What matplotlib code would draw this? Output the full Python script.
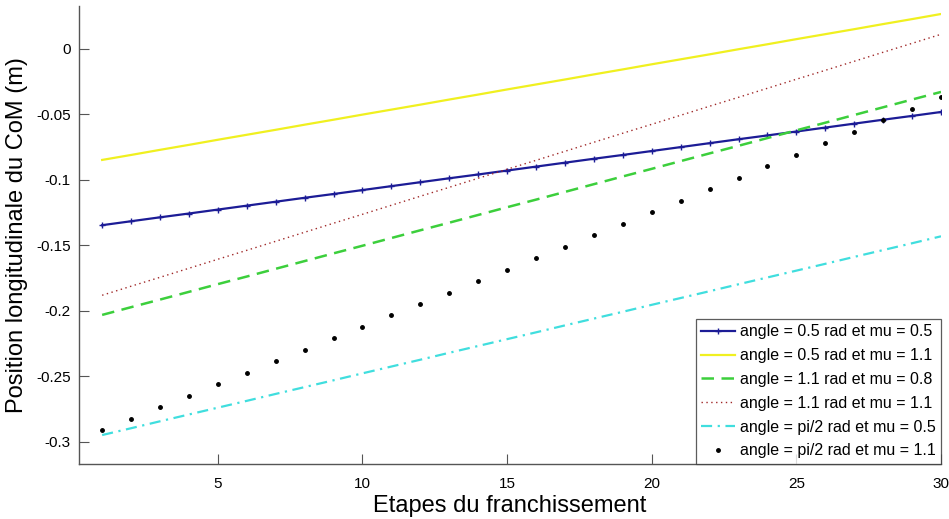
import matplotlib
matplotlib.use("Agg")
import matplotlib.pyplot as plt

plt.rcParams['font.family'] = ['Liberation Sans', 'DejaVu Sans']

steps = list(range(1, 31))

blue_05_05 = [-0.1345, -0.1315, -0.1285, -0.1256, -0.1226, -0.1196, -0.1166, -0.1136, -0.1107, -0.1077,
              -0.1047, -0.1017, -0.0987, -0.0958, -0.0928, -0.0898, -0.0868, -0.0838, -0.0809, -0.0779,
              -0.0749, -0.0719, -0.0689, -0.0660, -0.0630, -0.0600, -0.0570, -0.0540, -0.0511, -0.0481]
yellow_05_11 = [-0.0847, -0.0809, -0.0770, -0.0732, -0.0693, -0.0655, -0.0617, -0.0578, -0.0540, -0.0501,
                -0.0463, -0.0425, -0.0386, -0.0348, -0.0309, -0.0271, -0.0233, -0.0194, -0.0156, -0.0117,
                -0.0079, -0.0041, -0.0002, 0.0036, 0.0075, 0.0113, 0.0151, 0.0190, 0.0228, 0.0267]
green_11_08 = [-0.2030, -0.1971, -0.1913, -0.1854, -0.1795, -0.1737, -0.1678, -0.1619, -0.1560, -0.1502,
               -0.1443, -0.1384, -0.1326, -0.1267, -0.1208, -0.1150, -0.1091, -0.1032, -0.0973, -0.0915,
               -0.0856, -0.0797, -0.0739, -0.0680, -0.0621, -0.0563, -0.0504, -0.0445, -0.0386, -0.0328]
red_11_11 = [-0.1880, -0.1811, -0.1743, -0.1674, -0.1605, -0.1537, -0.1468, -0.1399, -0.1330, -0.1262,
             -0.1193, -0.1124, -0.1056, -0.0987, -0.0918, -0.0850, -0.0781, -0.0712, -0.0643, -0.0575,
             -0.0506, -0.0437, -0.0369, -0.0300, -0.0231, -0.0163, -0.0094, -0.0025, 0.0043, 0.0112]
cyan_pi2_05 = [-0.2947, -0.2895, -0.2842, -0.2790, -0.2738, -0.2686, -0.2633, -0.2581, -0.2529, -0.2476,
               -0.2424, -0.2372, -0.2319, -0.2267, -0.2215, -0.2163, -0.2110, -0.2058, -0.2006, -0.1953,
               -0.1901, -0.1849, -0.1796, -0.1744, -0.1692, -0.1640, -0.1587, -0.1535, -0.1483, -0.1430]
black_pi2_11 = [-0.2910, -0.2822, -0.2735, -0.2647, -0.2560, -0.2472, -0.2384, -0.2297, -0.2209, -0.2122,
                -0.2034, -0.1946, -0.1859, -0.1771, -0.1684, -0.1596, -0.1508, -0.1421, -0.1333, -0.1246,
                -0.1158, -0.1070, -0.0983, -0.0895, -0.0808, -0.0720, -0.0632, -0.0545, -0.0457, -0.0370]

labels = ['angle = 0.5 rad et mu = 0.5', 'angle = 0.5 rad et mu = 1.1',
          'angle = 1.1 rad et mu = 0.8', 'angle = 1.1 rad et mu = 1.1',
          'angle = pi/2 rad et mu = 0.5', 'angle = pi/2 rad et mu = 1.1']
xticks = [5, 10, 15, 20, 25, 30]
yticks = [0, -0.05, -0.1, -0.15, -0.2, -0.25, -0.3]
yticklabels = ['0', '-0.05', '-0.1', '-0.15', '-0.2', '-0.25', '-0.3']

fig = plt.figure(figsize=(9.49, 5.19), dpi=100)
ax = fig.add_axes([79 / 949, 55 / 519, 862 / 949, 458 / 519])

ax.plot(steps, blue_05_05, color='#1c1c96', lw=1.6, marker='+', ms=4, mew=1, label=labels[0])
ax.plot(steps, yellow_05_11, color='#f0f020', lw=1.6, label=labels[1])
ax.plot(steps, green_11_08, color='#3ccf3c', lw=1.8, ls=(0, (5, 3)), label=labels[2])
ax.plot(steps, red_11_11, color='#a02828', lw=1.0, ls=(0, (1, 2.5)), label=labels[3])
ax.plot(steps, cyan_pi2_05, color='#40dede', lw=1.6, ls=(0, (5, 2.5, 1, 2.5)), label=labels[4])
ax.plot(steps, black_pi2_11, color='black', ls='none', marker='.', ms=5, label=labels[5])

ax.set_xlim(0.2, 30)
ax.set_ylim(-0.3168, 0.0328)
ax.set_xticks(xticks)
ax.set_yticks(yticks)
ax.set_yticklabels(yticklabels)
ax.tick_params(direction='in', length=7, width=0.8, color='#555555', labelsize=11, pad=6)
ax.tick_params(axis='x', pad=9)

for side in ['top', 'right']:
    ax.spines[side].set_visible(False)
for side in ['left', 'bottom']:
    ax.spines[side].set_color('#555555')
    ax.spines[side].set_linewidth(1.0)

ax.set_xlabel('Etapes du franchissement', fontsize=17, labelpad=3)
ax.set_ylabel('Position longitudinale du CoM (m)', fontsize=17, labelpad=6)

leg = ax.legend(loc='lower right', fontsize=11.5, frameon=True, fancybox=False,
                borderaxespad=0, handlelength=2.1, handletextpad=0.3,
                labelspacing=0.55, borderpad=0.35)
leg.get_frame().set_edgecolor('#333333')
leg.get_frame().set_linewidth(0.9)

fig.savefig('out.png', dpi=100)
